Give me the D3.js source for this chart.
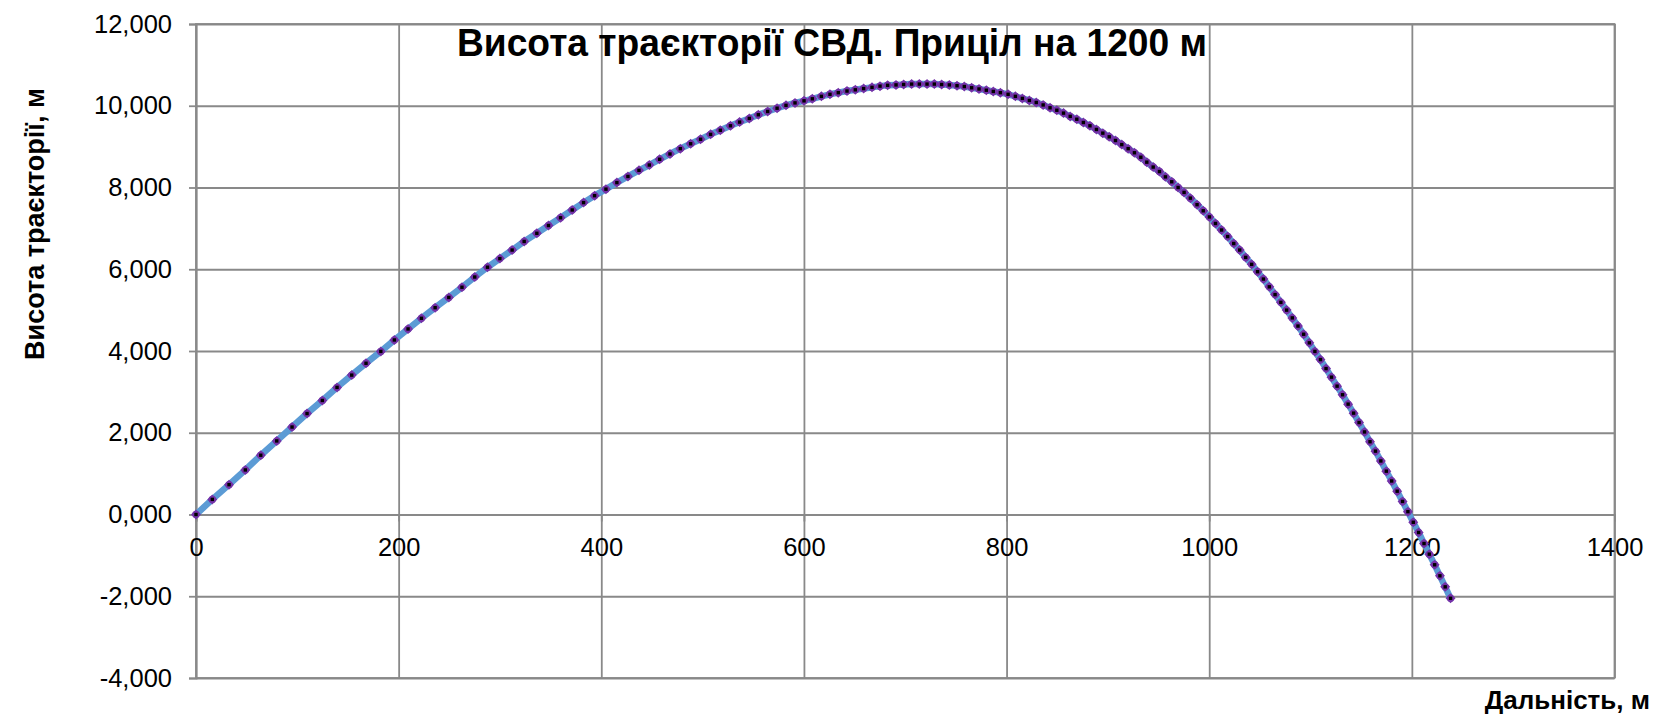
<!DOCTYPE html>
<html>
<head>
<meta charset="utf-8">
<script src="https://cdn.jsdelivr.net/npm/d3@7/dist/d3.min.js"></script>
<style>
  html, body { margin: 0; padding: 0; background: #fff; }
  svg { display: block; }
  text { font-family: "Liberation Sans", Arial, sans-serif; fill: #000; }
</style>
</head>
<body>
<svg id="chart" width="1658" height="722"></svg>
<script>
// ---- data ----
const titleText = "Висота траєкторії СВД. Приціл на 1200 м";
const xTitle = "Дальність, м";
const yTitle = "Висота траєкторії, м";

const xTicks = [0, 200, 400, 600, 800, 1000, 1200, 1400];
const yTicks = [-4, -2, 0, 2, 4, 6, 8, 10, 12];

const distance = [
  0,16.1,32.6,48.7,63.9,79.7,94.8,109.6,124.7,139.2,153.7,167.8,182.4,195.8,209.3,222.5,236.0,249.5,262.5,275.1,
  287.7,299.9,312.0,323.9,336.4,347.9,359.8,371.3,382.5,393.4,404.6,415.4,426.3,437.2,447.4,457.6,467.8,478.0,488.2,498.0,507.9,517.5,527.5,536.5,
  546.1,555.0,564.2,573.5,582.3,591.2,600.1,608.3,617.2,625.7,633.9,642.5,650.7,658.9,667.2,675.1,682.6,690.9,698.4,706.3,
  713.9,721.5,728.7,735.9,743.5,751.1,758.3,765.5,772.8,780.0,786.9,793.9,801.5,808.7,815.6,822.5,
  829.3,836.1,842.9,849.6,856.2,862.8,869.3,875.8,882.3,888.7,895.0,901.3,907.5,
  913.7,920.0,926.2,932.5,938.4,944.7,950.9,956.8,963.0,969.3,975.2,981.4,988.0,
  994.1,1000.2,1006.2,1012.2,1018.2,1024.2,1030.1,1036.0,1041.9,1047.7,1053.5,1059.3,1065.0,1070.7,1076.4,1082.0,1087.6,1093.2,1098.8,
  1104.3,1109.8,1115.3,1120.7,1126.2,1131.6,1137.1,1142.5,1147.9,1153.3,1158.7,1164.1,1169.4,1174.8,1180.1,1185.5,1190.8,1196.1,1201.4,1206.7,1212.0,1217.2,1222.5,1227.7,1232.9,1238.2
];

const height = [
  0,0.37,0.73,1.09,1.45,1.80,2.14,2.47,2.79,3.11,3.41,3.70,3.99,4.27,4.54,4.80,5.06,5.31,5.56,5.81,
  6.05,6.26,6.47,6.68,6.88,7.07,7.26,7.45,7.63,7.80,7.96,8.12,8.27,8.42,8.55,8.69,8.82,8.95,9.07,9.18,9.30,9.40,9.51,9.60,
  9.69,9.78,9.86,9.94,10.01,10.07,10.12,10.17,10.23,10.28,10.32,10.36,10.39,10.42,10.45,10.48,10.50,10.51,10.52,10.53,
  10.53,10.53,10.53,10.52,10.51,10.49,10.47,10.44,10.41,10.38,10.35,10.32,10.28,10.23,10.18,10.13,
  10.08,10.02,9.95,9.89,9.82,9.74,9.67,9.59,9.51,9.42,9.33,9.24,9.15,
  9.05,8.95,8.85,8.74,8.62,8.50,8.39,8.26,8.14,8.00,7.88,7.74,7.58,
  7.43,7.28,7.12,6.96,6.80,6.63,6.47,6.29,6.12,5.94,5.76,5.57,5.38,5.19,5.00,4.81,4.61,4.41,4.20,
  3.99,3.79,3.57,3.36,3.14,2.93,2.70,2.48,2.25,2.02,1.78,1.55,1.31,1.06,0.82,0.57,0.32,0.07,-0.19,-0.44,-0.71,-0.97,-1.23,-1.50,-1.77,-2.05
];

// ---- layout ----
const svg = d3.select("#chart");
const pLeft = 196, pRight = 1614.5, pTop = 24, pBottom = 678;
const gridColor = "#898989";

const x = d3.scaleLinear().domain([0, 1400]).range([pLeft, pRight]);
const y = d3.scaleLinear().domain([-4, 12]).range([pBottom, pTop]);

const uaLocale = d3.formatLocale({decimal: ",", thousands: " ", grouping: [3], currency: ["", ""], minus: "-"});
const yFmt = uaLocale.format(".3f");

svg.append("rect").attr("width", 1658).attr("height", 722).attr("fill", "#fff");

// gridlines
const gx = svg.append("g").attr("transform", `translate(0,${pBottom})`)
  .call(d3.axisBottom(x).tickValues(xTicks).tickSize(-(pBottom - pTop)).tickFormat(""));
gx.select(".domain").remove();
gx.selectAll("line").attr("stroke", gridColor).attr("stroke-width", 1.8);

const gy = svg.append("g").attr("transform", `translate(${pRight},0)`)
  .call(d3.axisLeft(y).tickValues(yTicks).tickSize(pRight - pLeft).tickFormat(""));
gy.select(".domain").remove();
gy.selectAll("line").attr("stroke", gridColor).attr("stroke-width", 1.8);

svg.append("rect").attr("x", pLeft).attr("y", pTop).attr("width", pRight - pLeft).attr("height", pBottom - pTop)
  .attr("fill", "none").attr("stroke", gridColor).attr("stroke-width", 1.8);

// y axis
const ay = svg.append("g").attr("transform", `translate(${pLeft},0)`)
  .call(d3.axisLeft(y).tickValues(yTicks).tickSize(7).tickPadding(17).tickFormat(yFmt));
ay.select(".domain").attr("stroke", gridColor).attr("stroke-width", 1.8);
ay.selectAll("line").attr("stroke", gridColor).attr("stroke-width", 1.8);
ay.selectAll("text").style("font-size", "25.5px").style("font-family", "'Liberation Sans', Arial, sans-serif").attr("fill", "#000");

// x axis at y = 0
const ax = svg.append("g").attr("transform", `translate(0,${y(0)})`)
  .call(d3.axisBottom(x).tickValues(xTicks).tickSize(7).tickPadding(16).tickFormat(d3.format("d")));
ax.select(".domain").attr("stroke", gridColor).attr("stroke-width", 1.8);
ax.selectAll("line").attr("stroke", gridColor).attr("stroke-width", 1.8);
ax.selectAll("text").style("font-size", "25.5px").style("font-family", "'Liberation Sans', Arial, sans-serif").attr("fill", "#000");

// series
const pts = distance.map((d, i) => [d, height[i]]);
const line = d3.line().x(d => x(d[0])).y(d => y(d[1]));
svg.append("path").datum(pts).attr("d", line)
  .attr("fill", "none").attr("stroke", "#5B9BD5").attr("stroke-width", 6.5)
  .attr("stroke-linejoin", "round").attr("stroke-linecap", "round");

const mk = svg.append("g").selectAll("g").data(pts).join("g")
  .attr("transform", d => `translate(${x(d[0])},${y(d[1])})`);
mk.append("path").attr("d", d3.symbol().type(d3.symbolSquare).size(50)())
  .attr("transform", "rotate(45)").attr("fill", "#7433A8");
mk.append("circle").attr("r", 3.7).attr("fill", "#7433A8");
mk.append("rect").attr("x", -1.7).attr("y", -1.7).attr("width", 3.4).attr("height", 3.4).attr("fill", "#000");

// titles
svg.append("text").attr("x", 457).attr("y", 56).attr("text-anchor", "start")
  .attr("textLength", 750).attr("lengthAdjust", "spacingAndGlyphs")
  .style("font-size", "38px").style("font-weight", "bold").text(titleText);

svg.append("text").attr("x", 1650).attr("y", 709).attr("text-anchor", "end")
  .style("font-size", "26px").style("font-weight", "bold").text(xTitle);

svg.append("text").attr("transform", "translate(44,224) rotate(-90)").attr("text-anchor", "middle")
  .style("font-size", "27px").style("font-weight", "bold").text(yTitle);
</script>
</body>
</html>
